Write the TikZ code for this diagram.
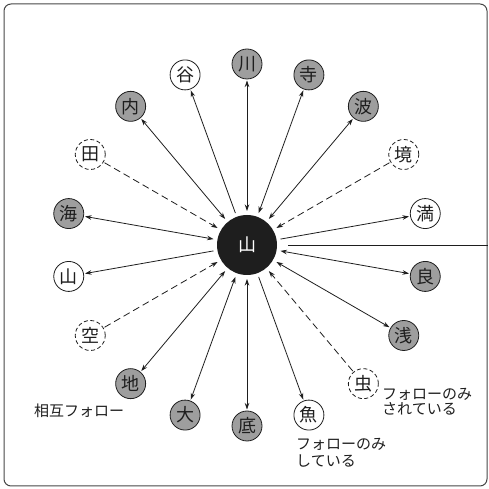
\documentclass[tikz,border=0pt]{standalone}
\usepackage{fontspec}
\newfontfamily\jp{Noto Sans CJK JP}
\usetikzlibrary{arrows.meta}
\definecolor{gfill}{RGB}{158,158,158}
\definecolor{ink}{RGB}{30,30,30}
\definecolor{framec}{RGB}{70,70,70}
\begin{document}
\begin{tikzpicture}[x=1pt,y=1pt,
  nd/.style={circle,draw=ink,line width=0.8pt,minimum size=30pt,inner sep=0pt,outer sep=1.5pt,text=ink,font=\jp\fontsize{18}{18}\selectfont},
  mutual/.style={nd,fill=gfill},
  plainnd/.style={nd,fill=white},
  dashnd/.style={nd,fill=white,dash pattern=on 4pt off 2.5pt},
  con/.style={draw=ink,line width=0.8pt},
  tipA/.tip={Stealth[length=6.5pt,width=4.5pt]},
  lbl/.style={inner sep=0pt,text=ink,font=\jp\fontsize{15}{16}\selectfont}
]
\useasboundingbox (0,0) rectangle (488,489);
\draw[framec,line width=1pt,rounded corners=7pt] (4,3) rectangle (487,485);
\node[circle,fill=ink,minimum size=60pt,inner sep=0pt,outer sep=4pt,text=white,font=\jp\fontsize{18}{18}\selectfont] (C) at (247,244) {山};
\coordinate (E) at (488,244);
\coordinate (S) at (288,244);
\draw[con] (S) -- (E);
\begin{scope}[shift={(247,244)}]
\foreach \a/\c [count=\i] in {50/波,70/寺,90/川,130/内,170/海,230/地,250/大,270/底,330/浅,350/良}
  {\node[mutual] (m\i) at (\a:181) {\c};}
\foreach \a/\c [count=\i] in {10/満,110/谷,190/山,290/魚}
  {\node[plainnd] (o\i) at (\a:181) {\c};}
\foreach \a/\c [count=\i] in {30/境,150/田,210/空,310/虫}
  {\node[dashnd] (d\i) at (\a:181) {\c};}
\end{scope}
\foreach \i in {1,...,10} {\draw[con,tipA-tipA] (C) -- (m\i);}
\foreach \i in {1,...,4} {\draw[con,-tipA] (C) -- (o\i);}
\foreach \i in {1,...,4} {\draw[con,dash pattern=on 7pt off 4pt,-tipA] (d\i) -- (C);}
\node[lbl,anchor=base west] (l1) at (34,72.3) {相互フォロー};
\node[lbl,anchor=base west] (l2) at (296,39.3) {フォローのみ};
\node[lbl,anchor=base west] (l3) at (296,22.3) {している};
\node[lbl,anchor=base west] (l4) at (382,89.3) {フォローのみ};
\node[lbl,anchor=base west] (l5) at (382,74.3) {されている};
\end{tikzpicture}
\end{document}
